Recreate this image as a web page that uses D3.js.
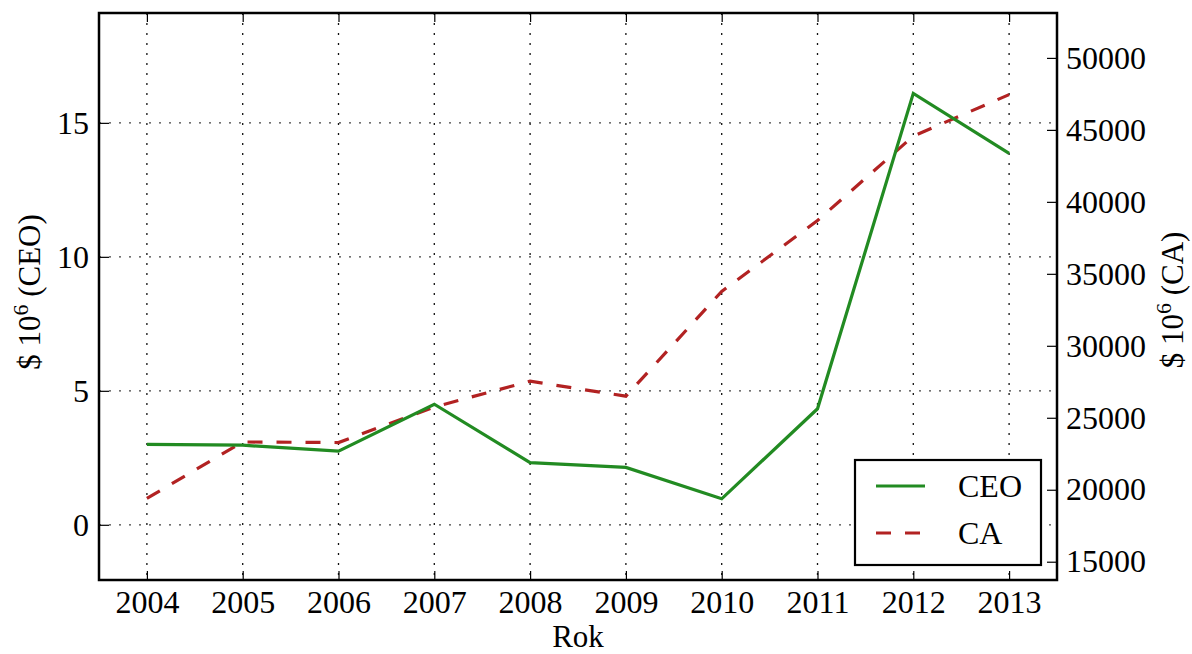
<!DOCTYPE html>
<html>
<head>
<meta charset="utf-8">
<script src="https://cdn.jsdelivr.net/npm/d3@7"></script>
<style>
body { margin: 0; background: #fff; }
svg { font-family: "Liberation Serif", serif; }
.tick text { font-size: 32px; fill: #000; font-family: "Liberation Serif", serif; }
</style>
</head>
<body>
<script>
// data
var years = [2004, 2005, 2006, 2007, 2008, 2009, 2010, 2011, 2012, 2013];
var ceo = [3.0, 2.97, 2.75, 4.5, 2.32, 2.14, 0.97, 4.33, 16.1, 13.86];
var ca = [19400, 23320, 23280, 25750, 27540, 26500, 33780, 38700, 44570, 47450];
var leftTicks = [0, 5, 10, 15];
var rightTicks = [15000, 20000, 25000, 30000, 35000, 40000, 45000, 50000];

var W = 1192, H = 654;
var margin = {top: 13, right: 135, bottom: 74, left: 99},
    width = W - margin.left - margin.right,
    height = H - margin.top - margin.bottom;

var svg = d3.select("body").append("svg")
    .attr("width", W)
    .attr("height", H);
var g = svg.append("g")
    .attr("transform", `translate(${margin.left},${margin.top})`);

var x = d3.scaleLinear().domain([2003.5, 2013.5]).range([0, width]);
var y = d3.scaleLinear().domain([-2.06, 19.1]).range([height, 0]);
var y2 = d3.scaleLinear().domain([13730, 53120]).range([height, 0]);

// grid
g.selectAll(".vgrid").data(years).enter().append("line")
    .attr("x1", d => x(d)).attr("x2", d => x(d))
    .attr("y1", 0).attr("y2", height)
    .attr("stroke", "#111").attr("stroke-width", 1.3)
    .attr("stroke-dasharray", "2,8");
g.selectAll(".hgrid").data(leftTicks).enter().append("line")
    .attr("x1", 0).attr("x2", width)
    .attr("y1", d => y(d)).attr("y2", d => y(d))
    .attr("stroke", "#444").attr("stroke-width", 1.3)
    .attr("stroke-dasharray", "2,8");

// axes, ticks pointing inward
function styleAxis(sel) {
    sel.select(".domain").remove();
    sel.selectAll(".tick line").attr("stroke", "#000").attr("stroke-width", 1.2);
}
g.append("g").attr("transform", `translate(0,${height})`)
    .call(d3.axisBottom(x).tickValues(years).tickFormat(d3.format("d"))
        .tickSizeInner(-9).tickPadding(10))
    .call(styleAxis);
g.append("g")
    .call(d3.axisTop(x).tickValues(years).tickFormat("").tickSizeInner(-9))
    .call(styleAxis);
g.append("g")
    .call(d3.axisLeft(y).tickValues(leftTicks).tickSizeInner(-10).tickPadding(10))
    .call(styleAxis);
g.append("g").attr("transform", `translate(${width},0)`)
    .call(d3.axisRight(y2).tickValues(rightTicks).tickFormat(d3.format("d"))
        .tickSizeInner(-10).tickPadding(9))
    .call(styleAxis);

// lines
var lineCeo = d3.line().x((d, i) => x(years[i])).y(d => y(d));
var lineCa = d3.line().x((d, i) => x(years[i])).y(d => y2(d));
g.append("path").datum(ca).attr("d", lineCa)
    .attr("fill", "none").attr("stroke", "#b22222").attr("stroke-width", 3.2)
    .attr("stroke-dasharray", "15,14");
g.append("path").datum(ceo).attr("d", lineCeo)
    .attr("fill", "none").attr("stroke", "#228b22").attr("stroke-width", 3.2);

// frame
g.append("rect").attr("width", width).attr("height", height)
    .attr("fill", "none").attr("stroke", "#000").attr("stroke-width", 2.5);

// legend
var leg = g.append("g").attr("transform", `translate(${855 - margin.left},${460 - margin.top})`);
leg.append("rect").attr("width", 186).attr("height", 105)
    .attr("fill", "#fff").attr("stroke", "#000").attr("stroke-width", 2.2);
var legItems = [{name: "CEO", color: "#228b22", dash: null}, {name: "CA", color: "#b22222", dash: "15,14"}];
legItems.forEach(function (d, i) {
    var yy = 26 + i * 47;
    leg.append("line").attr("x1", 21).attr("x2", 70).attr("y1", yy).attr("y2", yy)
        .attr("stroke", d.color).attr("stroke-width", 3.2)
        .attr("stroke-dasharray", d.dash);
    leg.append("text").attr("x", 103).attr("y", yy + 11)
        .attr("font-size", 32).text(d.name);
});

// labels
svg.append("text").attr("x", margin.left + width / 2).attr("y", 647)
    .attr("text-anchor", "middle").attr("font-size", 31).text("Rok");

function yLabel(xp, yp, tail) {
    var t = svg.append("text")
        .attr("transform", `translate(${xp},${yp}) rotate(-90)`)
        .attr("text-anchor", "middle").attr("font-size", 31);
    t.append("tspan").text("$ 10");
    t.append("tspan").attr("dy", -12).attr("font-size", 22).text("6");
    t.append("tspan").attr("dy", 12).text(" " + tail);
}
yLabel(40, 292, "(CEO)");
yLabel(1183, 300, "(CA)");
</script>
</body>
</html>
